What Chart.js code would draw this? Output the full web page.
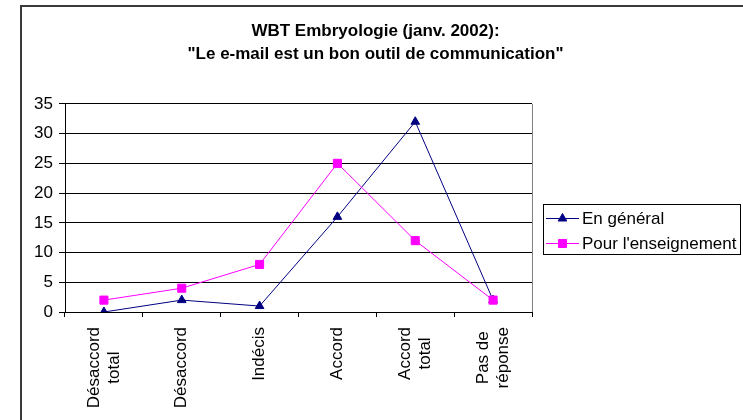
<!DOCTYPE html>
<html>
<head>
<meta charset="utf-8">
<script src="https://cdn.jsdelivr.net/npm/chart.js"></script>
<style>
html, body { margin: 0; padding: 0; background: #fff; }
#wrap { width: 743px; height: 420px; }
</style>
</head>
<body>
<div id="wrap"><canvas id="emailChart" width="743" height="420"></canvas></div>
<script>
var categories = [['Désaccord', 'total'], ['Désaccord'], ['Indécis'], ['Accord'], ['Accord', 'total'], ['Pas de', 'réponse']];
var enGeneral = [0, 2, 1, 16, 32, 2];
var pourEnseignement = [2, 4, 8, 25, 12, 2];
var yTicks = [0, 5, 10, 15, 20, 25, 30, 35];
var seriesNames = ['En général', "Pour l'enseignement"];
var titleLines = ['WBT Embryologie (janv. 2002):', '"Le e-mail est un bon outil de communication"'];

var FONT = '"Liberation Sans", Arial, sans-serif';
var NAVY = '#000080';
var MAGENTA = '#ff00ff';

// outer frame, plot border, rotated category labels and boxed legend
var excelLook = {
    id: 'excelLook',
    beforeDraw: function(chart) {
        var ctx = chart.ctx;
        ctx.save();
        ctx.strokeStyle = '#3a3a3a';
        ctx.lineWidth = 2;
        ctx.beginPath();
        ctx.moveTo(21, 420);
        ctx.lineTo(21, 6);
        ctx.lineTo(743, 6);
        ctx.stroke();
        ctx.restore();
    },
    afterDraw: function(chart) {
        var ctx = chart.ctx;
        var area = chart.chartArea;
        var xs = chart.scales.x;

        ctx.save();
        ctx.strokeStyle = '#808080';
        ctx.lineWidth = 1;
        ctx.beginPath();
        ctx.moveTo(Math.round(area.right) + 0.5, area.top);
        ctx.lineTo(Math.round(area.right) + 0.5, area.bottom);
        ctx.stroke();

        // category labels, rotated, lines centred like Excel does
        ctx.font = '17px ' + FONT;
        ctx.fillStyle = '#000';
        ctx.textAlign = 'center';
        ctx.textBaseline = 'middle';
        var lh = 20;
        categories.forEach(function(lines, i) {
            var px = xs.getPixelForValue(i);
            var maxW = Math.max.apply(null, lines.map(function(l) { return ctx.measureText(l).width; }));
            var cy = area.bottom + 15 + maxW / 2;
            lines.forEach(function(line, j) {
                ctx.save();
                ctx.translate(px + (j - (lines.length - 1) / 2) * lh, cy);
                ctx.rotate(-Math.PI / 2);
                ctx.fillText(line, 0, 0);
                ctx.restore();
            });
        });

        // legend
        var lx = area.right + 11, ly = 204, lw = 197, lhgt = 50;
        ctx.strokeStyle = '#000';
        ctx.strokeRect(lx + 0.5, ly + 0.5, lw, lhgt);
        ctx.textAlign = 'left';
        chart.data.datasets.forEach(function(ds, i) {
            var y = ly + 14 + i * 25;
            ctx.strokeStyle = ds.borderColor;
            ctx.fillStyle = ds.backgroundColor;
            ctx.lineWidth = 1;
            ctx.beginPath();
            ctx.moveTo(lx + 3, y + 0.5);
            ctx.lineTo(lx + 36, y + 0.5);
            ctx.stroke();
            Chart.helpers.drawPoint(ctx, {
                pointStyle: ds.pointStyle, radius: ds.pointRadius, rotation: 0, borderWidth: 1
            }, lx + 19.5, y + 0.5);
            ctx.fillStyle = '#000';
            ctx.fillText(ds.label, lx + 39, y + 1);
        });
        ctx.restore();
    }
};

new Chart(document.getElementById('emailChart'), {
    type: 'line',
    data: {
        labels: categories,
        datasets: [{
            label: seriesNames[0],
            data: enGeneral,
            borderColor: NAVY,
            backgroundColor: NAVY,
            borderWidth: 1,
            pointStyle: 'triangle',
            pointRadius: 5,
            pointHoverRadius: 5,
            tension: 0,
            order: 1
        }, {
            label: seriesNames[1],
            data: pourEnseignement,
            borderColor: MAGENTA,
            backgroundColor: MAGENTA,
            borderWidth: 1,
            pointStyle: 'rect',
            pointRadius: 5.7,
            pointHoverRadius: 5.7,
            tension: 0,
            order: 0
        }]
    },
    options: {
        responsive: false,
        animation: false,
        layout: { padding: { left: 8, right: 0, top: 0, bottom: 0 } },
        plugins: {
            legend: { display: false },
            tooltip: { enabled: false },
            title: {
                display: true,
                text: titleLines,
                color: '#000',
                font: { family: FONT, size: 17, weight: 'bold', lineHeight: 1.35 },
                padding: { top: 20, bottom: 38 }
            }
        },
        scales: {
            x: {
                offset: true,
                grid: { offset: true, drawOnChartArea: false, drawTicks: true, tickLength: 5, color: '#000' },
                border: { color: '#000' },
                ticks: { display: false },
                afterFit: function(scale) { scale.height = 108; }
            },
            y: {
                min: 0,
                max: 35,
                afterBuildTicks: function(scale) {
                    scale.ticks = yTicks.map(function(v) { return { value: v }; });
                },
                grid: { color: '#000', tickLength: 6 },
                border: { color: '#000' },
                ticks: { color: '#000', padding: 6, font: { family: FONT, size: 17 } },
                afterFit: function(scale) { scale.width = 57; }
            },
            spacer: {
                type: 'linear',
                position: 'right',
                display: true,
                grid: { display: false },
                border: { display: false },
                ticks: { display: false },
                afterFit: function(scale) { scale.width = 211; }
            }
        }
    },
    plugins: [excelLook]
});
</script>
</body>
</html>
